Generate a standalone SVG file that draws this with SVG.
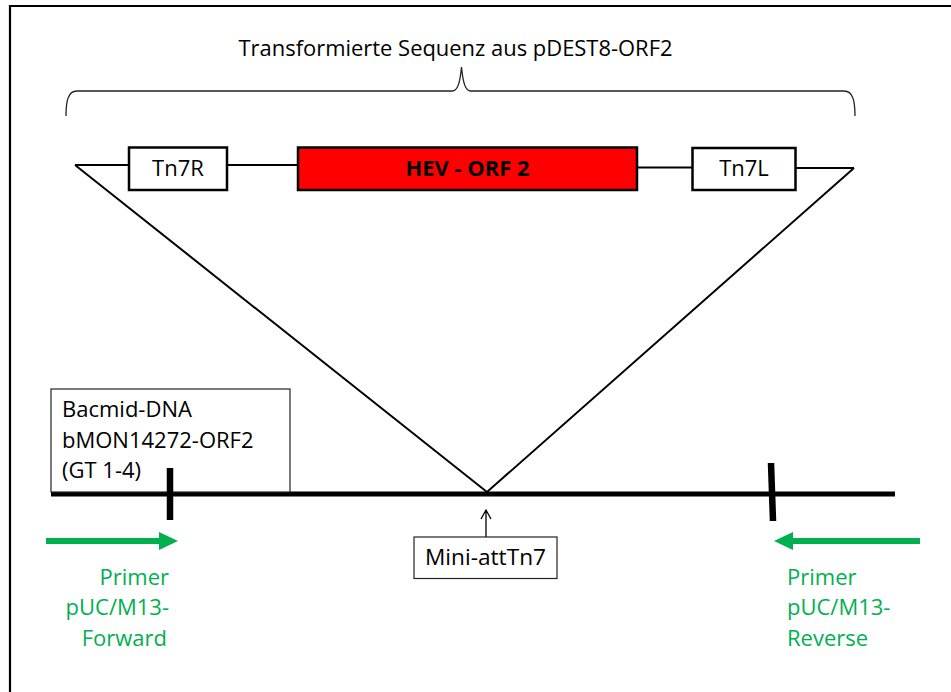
<svg xmlns="http://www.w3.org/2000/svg" width="951" height="692" viewBox="0 0 951 692">
  <style>
    text { font-family: "Open Sans", "Liberation Sans", sans-serif; font-size: 22px; fill: #000; }
    .green { fill: #00B050; }
    .gene { fill: #fff; stroke: #000; stroke-width: 2.5; }
    .label { fill: #fff; stroke: #222; stroke-width: 1.2; }
    .thin { fill: none; stroke: #000; stroke-width: 2; }
    .dna { fill: none; stroke: #000; stroke-width: 5; }
    .tick { fill: none; stroke: #000; stroke-width: 6.5; }
    .shaft { fill: none; stroke: #00B050; stroke-width: 6; }
  </style>
  <rect x="0" y="0" width="951" height="692" fill="#fff"/>
  <!-- frame -->
  <path d="M10,692 L10,6 L951,6" fill="none" stroke="#000" stroke-width="2.2"/>

  <g id="title">
    <text x="455.5" y="56" text-anchor="middle" textLength="434" lengthAdjust="spacingAndGlyphs">Transformierte Sequenz aus pDEST8-ORF2</text>
    <path d="M66,116 C66,101 68,91 77,91 L452,91 C458,91 460,82 461.5,67 C463,82 465,91 471,91 L844,91 C853,91 855,101 855,116" fill="none" stroke="#222" stroke-width="1.3"/>
  </g>

  <g id="connectors">
    <path class="thin" d="M75,165 L129,165 M227,165 L298,165 M637,167.5 L692,167.5 M796,168 L854,168"/>
    <path class="thin" d="M75,165 L487,492 L854,168"/>
    <path class="dna" d="M51,494 L895,494"/>
    <path d="M486,537 L486,510 M481,519 L486,510 L491,519" fill="none" stroke="#000" stroke-width="1.3"/>
  </g>

  <g id="tn7r">
    <rect class="gene" x="129" y="147.5" width="98" height="42.5"/>
    <text x="178" y="176" text-anchor="middle">Tn7R</text>
  </g>

  <g id="hev-orf2">
    <rect x="298" y="147.5" width="339" height="42.5" fill="#FF0000" stroke="#000" stroke-width="2.5"/>
    <text x="467.5" y="176" text-anchor="middle" font-weight="bold" textLength="124" lengthAdjust="spacingAndGlyphs">HEV - ORF 2</text>
  </g>

  <g id="tn7l">
    <rect class="gene" x="692.5" y="148" width="103" height="42"/>
    <text x="744" y="176" text-anchor="middle">Tn7L</text>
  </g>

  <g id="bacmid">
    <rect class="label" x="51" y="389" width="239" height="103"/>
    <text x="62" y="417">Bacmid-DNA</text>
    <text x="62" y="448">bMON14272-ORF2</text>
    <text x="62" y="478">(GT 1-4)</text>
  </g>

  <g id="ticks">
    <path class="tick" d="M170,468 L170,520"/>
    <path class="tick" d="M771,463 L773,521"/>
  </g>

  <g id="mini-atttn7">
    <rect class="label" x="414" y="537" width="143" height="41.5"/>
    <text x="485.5" y="565" text-anchor="middle" textLength="121" lengthAdjust="spacingAndGlyphs">Mini-attTn7</text>
  </g>

  <g id="primer-forward">
    <path class="shaft" d="M46,541 L161,541"/>
    <polygon points="159,532 178,541 159,550" fill="#00B050"/>
    <text class="green" x="169" y="585" text-anchor="end">Primer</text>
    <text class="green" x="169" y="615" text-anchor="end">pUC/M13-</text>
    <text class="green" x="167" y="646" text-anchor="end">Forward</text>
  </g>

  <g id="primer-reverse">
    <path class="shaft" d="M920,541 L791,541"/>
    <polygon points="793,532 774,541 793,550" fill="#00B050"/>
    <text class="green" x="787" y="585">Primer</text>
    <text class="green" x="787" y="615">pUC/M13-</text>
    <text class="green" x="787" y="646">Reverse</text>
  </g>
</svg>
